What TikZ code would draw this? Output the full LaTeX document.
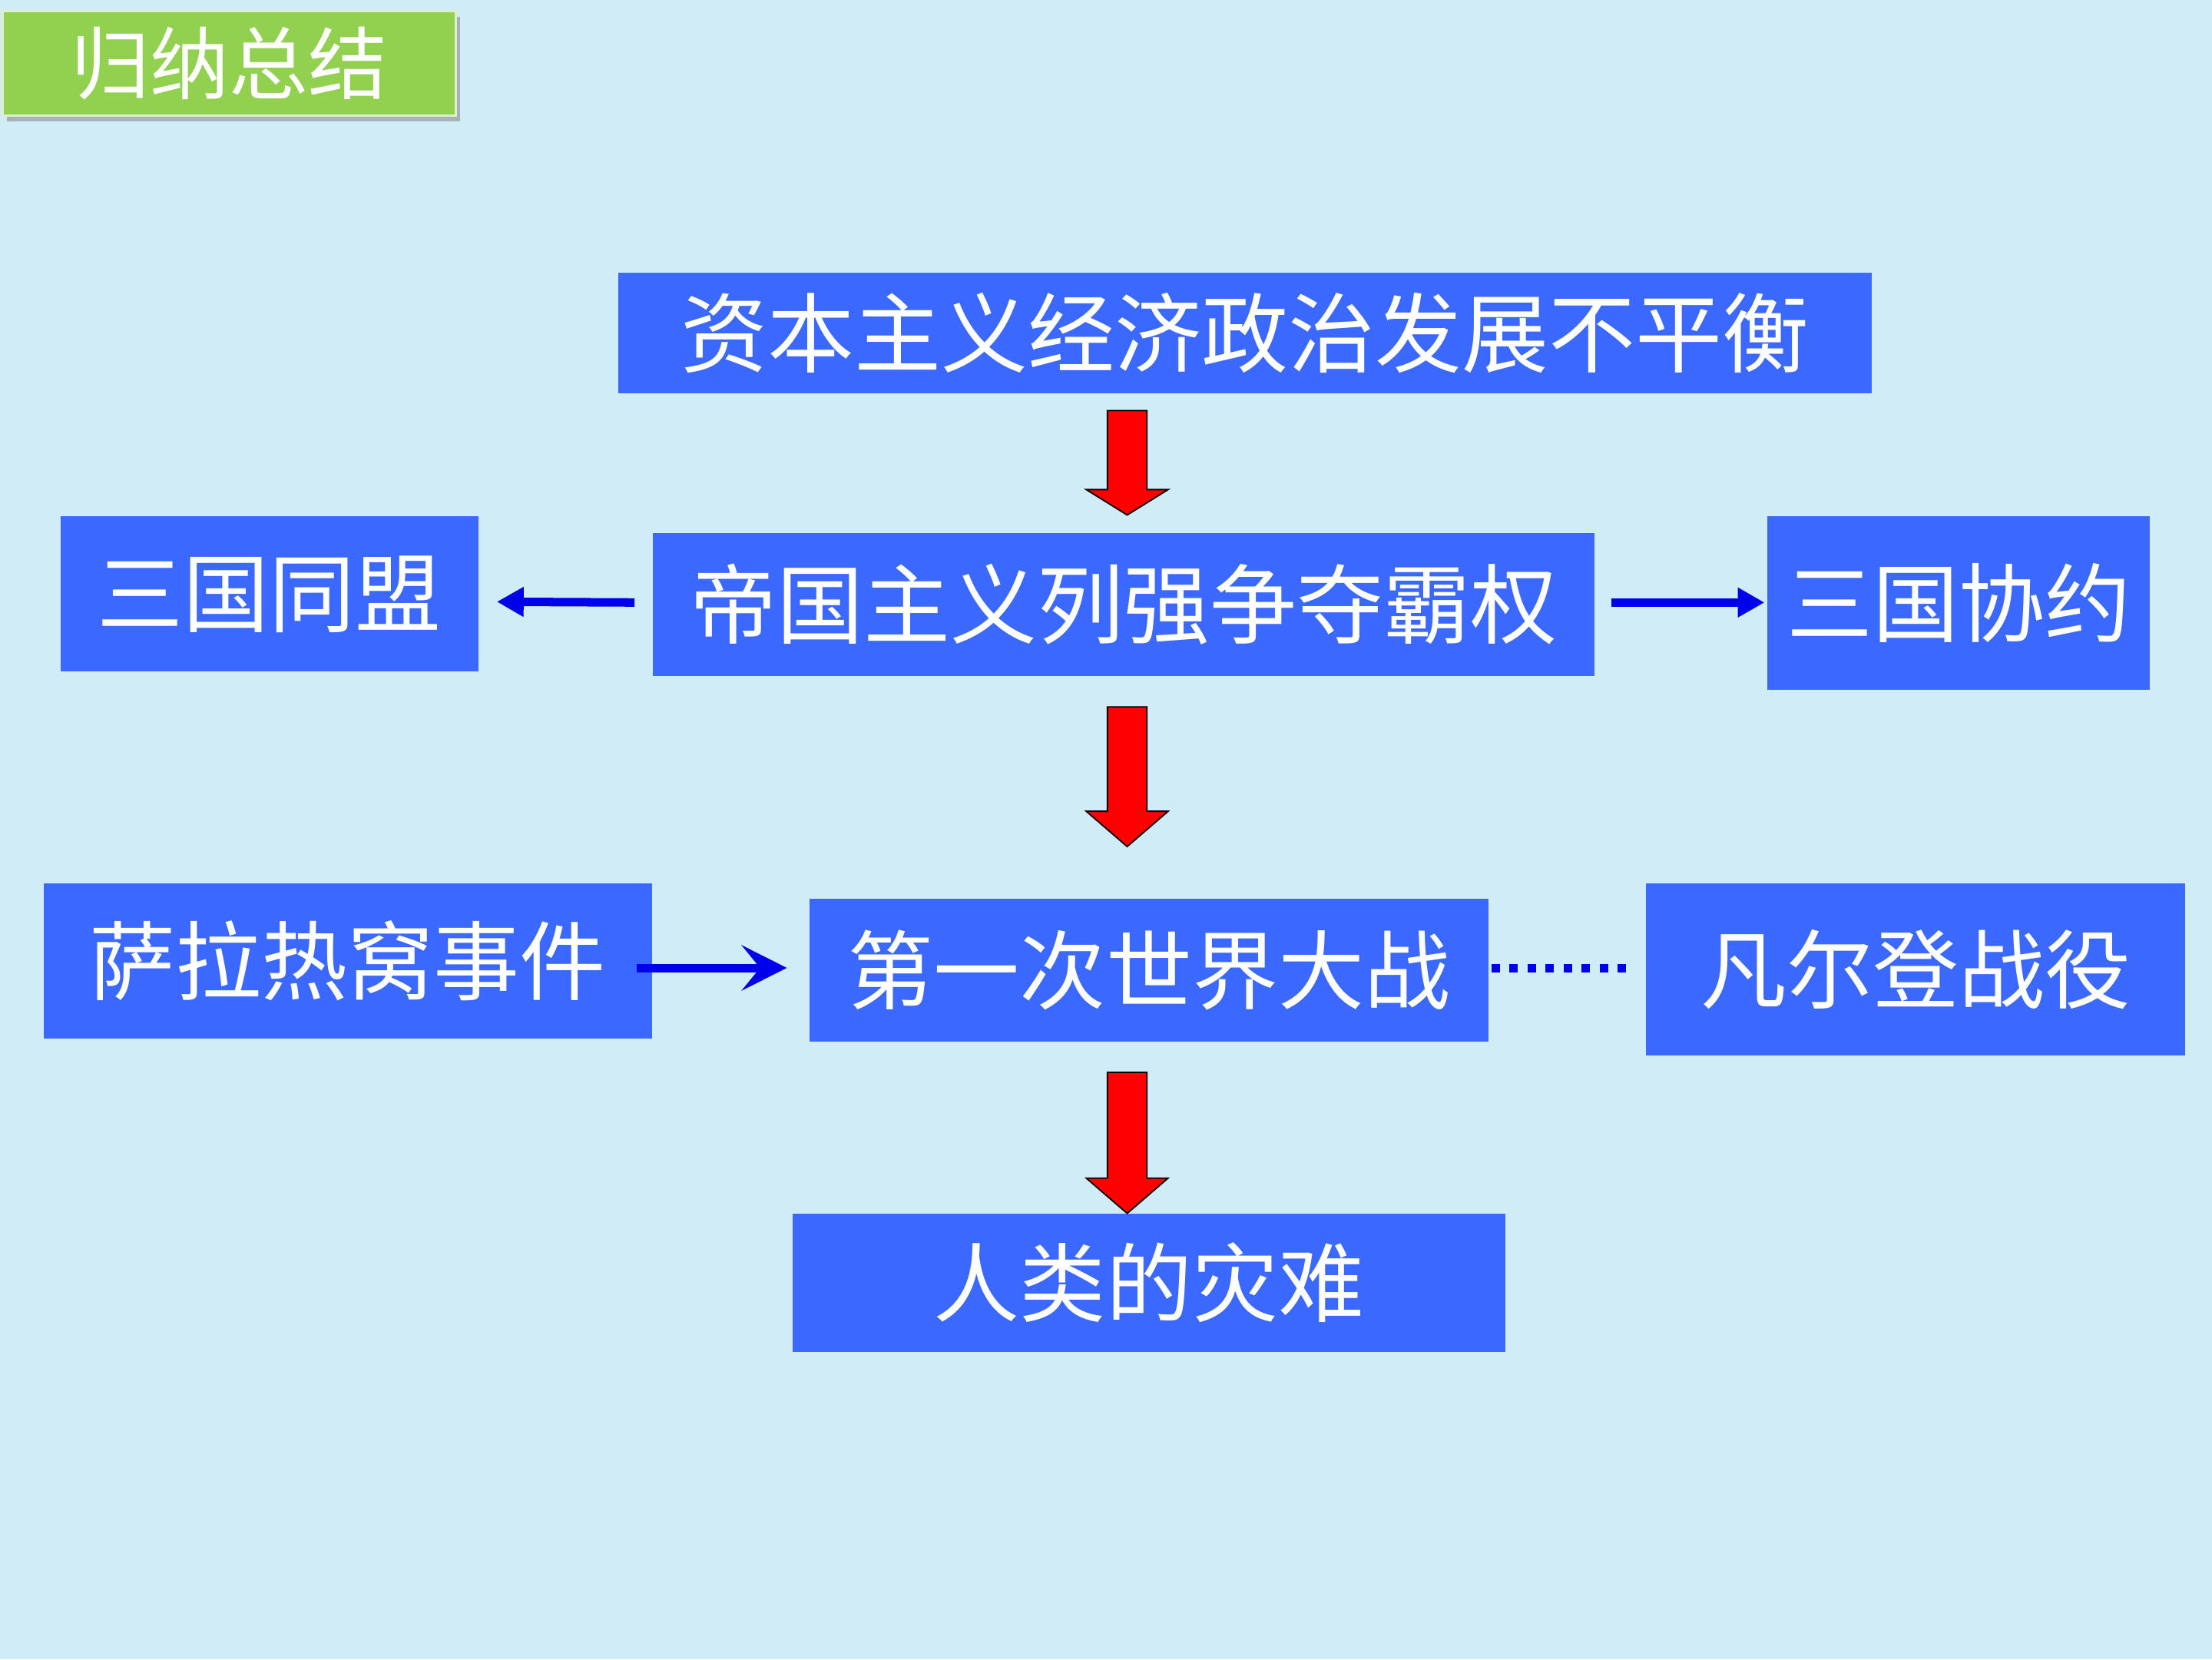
\documentclass[tikz,border=0pt]{standalone}
\usepackage{fontspec}
\setmainfont{Noto Sans CJK SC}
\usetikzlibrary{arrows.meta,shadows,calc}
\definecolor{bg}{RGB}{208,236,246}
\definecolor{boxblue}{RGB}{59,105,255}
\definecolor{titlegreen}{RGB}{146,208,80}
\definecolor{arrowblue}{RGB}{0,0,235}
\definecolor{arrowred}{RGB}{255,0,0}
% block arrow pointing down from #1 to #2, head length #3
\newcommand\downblock[3]{%
  \filldraw[fill=arrowred, draw=black, line width=1pt, line join=miter]
    ($(#1)+(-14,0)$) -- ($(#1)+(14,0)$) -- ($(#2)+(14,-#3)$) -- ($(#2)+(29,-#3)$)
    -- (#2) -- ($(#2)+(-29,-#3)$) -- ($(#2)+(-14,-#3)$) -- cycle;}
\begin{document}
\begin{tikzpicture}[x=1pt,y=-1pt,
  box/.style={fill=boxblue, text=white, inner sep=0pt, anchor=center,
              font=\fontsize{61}{61}\selectfont},
  link/.style={draw=arrowblue, line width=6pt},
  linkhead/.style={-{Triangle[length=19pt,width=20pt]}},
  linkstealth/.style={-{Stealth[length=32pt,width=32pt,inset=13pt]}}]
\fill[bg] (0,0) rectangle (1568,1176);
\useasboundingbox (0,0) rectangle (1568,1176);

% heading tab
\node[fill=titlegreen, draw=white!70!titlegreen, line width=1.5pt, text=white,
      minimum width=321pt, minimum height=74pt, inner sep=0pt,
      drop shadow={shadow xshift=3pt, shadow yshift=-4pt, fill=black!45, opacity=.6},
      font=\fontsize{56}{56}\selectfont] (title) at (162.5,45) {归纳总结};

% main chain
\node[box, font=\fontsize{61.5}{61.5}\selectfont, minimum width=889pt, minimum height=86pt] (cause) at (882.5,236) {资本主义经济政治发展不平衡};
\node[box, font=\fontsize{61.5}{61.5}\selectfont, minimum width=667pt, minimum height=101pt] (rivalry) at (796.5,428.5) {帝国主义列强争夺霸权};
\node[box, minimum width=481pt, minimum height=101pt] (war) at (814.5,687.5) {第一次世界大战};
\node[box, minimum width=505pt, minimum height=98pt] (disaster) at (814.5,909) {人类的灾难};

% side boxes
\node[box, minimum width=296pt, minimum height=110pt] (alliance) at (191,421) {三国同盟};
\node[box, minimum width=271pt, minimum height=123pt] (entente) at (1388.5,427.5) {三国协约};
\node[box, minimum width=431pt, minimum height=110pt] (sarajevo) at (246.5,681) {萨拉热窝事件};
\node[box, minimum width=382pt, minimum height=122pt] (verdun) at (1358,687) {凡尔登战役};

% red block arrows between the main boxes
\coordinate (r1s) at (799,291);  \coordinate (r1e) at (799,365);
\coordinate (r2s) at (799,501);  \coordinate (r2e) at (799,600);
\coordinate (r3s) at (799,760);  \coordinate (r3e) at (799,860);
\downblock{r1s}{r1e}{18}
\downblock{r2s}{r2e}{25}
\downblock{r3s}{r3e}{25}

% blue connectors
\draw[link, linkhead] ($(rivalry.west)+(-13,-1.5)$) -- ($(alliance.east)+(13,5.5)$);
\draw[link, linkhead] ($(rivalry.east)+(12,-1.5)$) -- ($(entente.west)+(-2,-0.5)$);
\draw[link, linkstealth] ($(sarajevo.east)+(-11,5)$) -- ($(war.west)+(-16,-1.5)$);
\draw[draw=arrowblue, line width=6pt, dash pattern=on 6pt off 6.8pt]
  ($(war.east)+(2,-1.5)$) -- ($(verdun.west)+(-13,-1)$);
\end{tikzpicture}
\end{document}
